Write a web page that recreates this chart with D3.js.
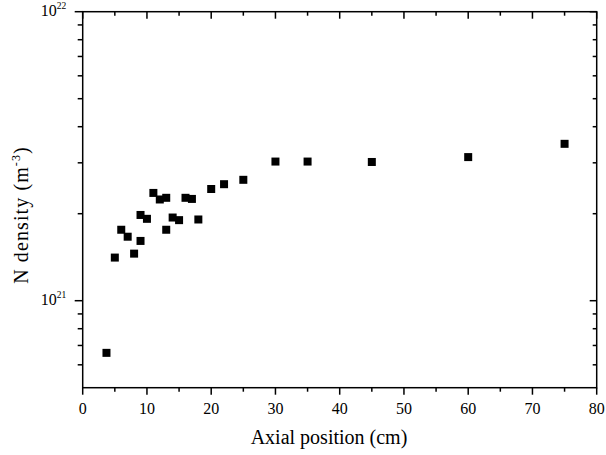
<!DOCTYPE html>
<html>
<head>
<meta charset="utf-8">
<script src="https://cdn.jsdelivr.net/npm/d3@7"></script>
<style>
  body { margin: 0; background: #fff; }
</style>
</head>
<body>
<svg id="chart" width="606" height="455"></svg>
<script>
// axial position (cm) and N density (m^-3)
const positions = [3.7, 5, 6, 7, 8, 9, 9, 10, 11, 12, 13, 13, 14, 15, 16, 17, 18, 20, 22, 25, 30, 35, 45, 60, 75];
const densities = [6.6e20, 1.41e21, 1.76e21, 1.665e21, 1.455e21, 1.61e21, 1.98e21, 1.92e21, 2.36e21, 2.24e21,
                   2.27e21, 1.76e21, 1.94e21, 1.9e21, 2.27e21, 2.25e21, 1.91e21, 2.435e21, 2.53e21, 2.62e21,
                   3.03e21, 3.03e21, 3.02e21, 3.14e21, 3.49e21];
const xTicks = [0, 10, 20, 30, 40, 50, 60, 70, 80];
const yMajor = [1e21, 1e22];
const yExponents = [21, 22];

(function() {
  const FONT = 'Liberation Serif';
  const svg = d3.select('#chart');
  const pl = 82.7, pr = 596.7, pt = 11.7, pb = 387.7;

  const x = d3.scaleLinear().domain([0, 80]).range([pl, pr]);
  const y = d3.scaleLog().domain([5e20, 1e22]).range([pb, pt]);

  const xMinor = d3.range(5, 80, 10);
  const yMinor = [6e20, 7e20, 8e20, 9e20, 2e21, 3e21, 4e21, 5e21, 6e21, 7e21, 8e21, 9e21];

  const g = svg.append('g');

  // frame
  g.append('rect')
    .attr('x', pl).attr('y', pt)
    .attr('width', pr - pl).attr('height', pb - pt)
    .attr('fill', 'none').attr('stroke', '#000').attr('stroke-width', 1.5);

  const tick = (x1, y1, x2, y2) => g.append('line')
    .attr('x1', x1).attr('y1', y1).attr('x2', x2).attr('y2', y2)
    .attr('stroke', '#000').attr('stroke-width', 1.5);

  // x ticks: outward on bottom, inward on top
  xTicks.forEach(v => {
    tick(x(v), pb, x(v), pb + 7);
    tick(x(v), pt, x(v), pt + 7);
  });
  xMinor.forEach(v => {
    tick(x(v), pb, x(v), pb + 4);
    tick(x(v), pt, x(v), pt + 4);
  });
  // y ticks: outward on left, inward on right
  yMajor.forEach(v => {
    tick(pl - 8, y(v), pl, y(v));
    tick(pr - 7, y(v), pr, y(v));
  });
  yMinor.forEach(v => {
    tick(pl - 5, y(v), pl, y(v));
    tick(pr - 4, y(v), pr, y(v));
  });

  // x tick labels
  g.selectAll('.xl').data(xTicks).enter().append('text')
    .attr('x', d => x(d)).attr('y', 414)
    .attr('text-anchor', 'middle').attr('font-size', 16)
    .style('font-family', FONT)
    .text(d => d);

  // y tick labels: 10^n
  yMajor.forEach((v, i) => {
    const t = g.append('text')
      .attr('x', pl - 16.5).attr('y', y(v) + 4)
      .attr('text-anchor', 'end').attr('font-size', 16)
      .style('font-family', FONT);
    t.append('tspan').text('10');
    t.append('tspan').attr('dy', -7).attr('font-size', 9.5).text(yExponents[i]);
  });

  // axis titles
  g.append('text')
    .attr('x', 329).attr('y', 444)
    .attr('text-anchor', 'middle').attr('font-size', 20)
    .style('font-family', FONT)
    .text('Axial position (cm)');

  const yt = g.append('text')
    .attr('transform', 'translate(27.5,215) rotate(-90)')
    .attr('text-anchor', 'middle').attr('font-size', 20)
    .attr('letter-spacing', 1.1)
    .style('font-family', FONT);
  yt.append('tspan').text('N density (m');
  yt.append('tspan').attr('dy', -8).attr('font-size', 12).text('-3');
  yt.append('tspan').attr('dy', 8).text(')');

  // data points
  const s = 8;
  g.selectAll('.pt').data(positions).enter().append('rect')
    .attr('x', d => x(d) - s / 2)
    .attr('y', (d, i) => y(densities[i]) - s / 2)
    .attr('width', s).attr('height', s)
    .attr('fill', '#000');
})();
</script>
</body>
</html>
